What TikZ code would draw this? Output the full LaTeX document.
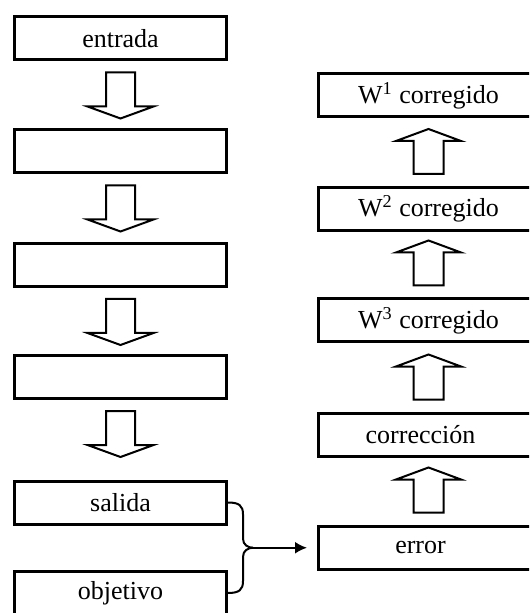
\documentclass[tikz,border=0pt]{standalone}
\usepackage{fontspec}
\setmainfont{Liberation Serif}
\usetikzlibrary{calc,arrows.meta}
\newcommand{\dnblk}[1]{\draw[blk] ($(#1.south)+(-14.5,11)$) -- ($(#1.south)+(-14.5,45)$) -- ($(#1.south)+(-33,45)$) -- ($(#1.south)+(0,57)$) -- ($(#1.south)+(33,45)$) -- ($(#1.south)+(14.5,45)$) -- ($(#1.south)+(14.5,11)$) -- cycle;}
\newcommand{\upblk}[1]{\draw[blk] ($(#1.north)+(-15,-12)$) -- ($(#1.north)+(-15,-45)$) -- ($(#1.north)+(-32.5,-45)$) -- ($(#1.north)+(0,-57)$) -- ($(#1.north)+(32.5,-45)$) -- ($(#1.north)+(15,-45)$) -- ($(#1.north)+(15,-12)$) -- cycle;}
\begin{document}
\begin{tikzpicture}[x=0.5pt,y=-0.5pt,
  box/.style={draw,line width=1.5pt,minimum width=106pt,minimum height=21.5pt,inner sep=0pt,font=\fontsize{13}{15}\selectfont},
  rbox/.style={box,minimum width=110pt},
  blk/.style={draw,line width=1pt,fill=white,line join=miter},
  conn/.style={line width=1pt}]
\useasboundingbox (0,0) rectangle (529,613);
\clip (0,0) rectangle (529,613);
% left column
\node[box] (entrada) at (120.5,38.5) {entrada};
\node[box] (b2) at (120.5,151.5) {};
\node[box] (b3) at (120.5,265) {};
\node[box] (b4) at (120.5,377) {};
\node[box] (salida) at (120.5,502.5) {salida};
\node[box] (objetivo) at (120.5,593) {objetivo};
% right column
\node[rbox] (w1) at (428.5,95.5) {W\textsuperscript{1} corregido};
\node[rbox] (w2) at (428.5,209) {W\textsuperscript{2} corregido};
\node[rbox] (w3) at (428.5,320.5) {W\textsuperscript{3} corregido};
\node[rbox] (corr) at (428.5,434.5) {\hspace*{-8pt}corrección};
\node[rbox] (error) at (428.5,547.5) {\hspace*{-8pt}error};
% block arrows
\dnblk{entrada}
\dnblk{b2}
\dnblk{b3}
\dnblk{b4}
\begin{scope}[xshift=-1.5pt]
\upblk{w2}
\upblk{w3}
\upblk{corr}
\upblk{error}
\end{scope}
% brace connector
\coordinate (j) at ($(salida.east)!0.5!(objetivo.east)+(25,0)$);
\draw[conn] (salida.east) .. controls +(11,0) and +(0,-9) .. ($(salida.east)+(15,12)$) -- ($(j)+(-10,-9)$) .. controls +(0,6) and +(-5,0) .. (j);
\draw[conn] (objetivo.east) .. controls +(11,0) and +(0,9) .. ($(objetivo.east)+(15,-12)$) -- ($(j)+(-10,9)$) .. controls +(0,-6) and +(-5,0) .. (j);
\draw[conn,-{Latex[length=6pt,width=6pt]},shorten >=5pt] (j) -- (j -| error.west);
\end{tikzpicture}
\end{document}
